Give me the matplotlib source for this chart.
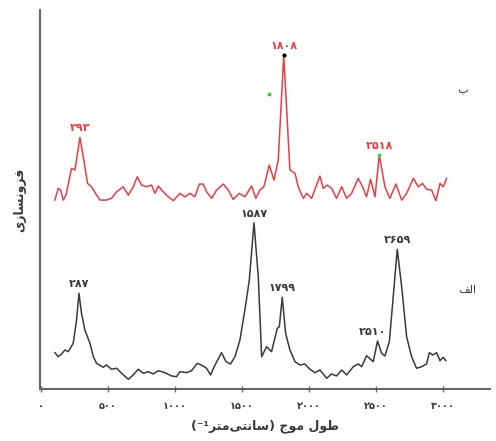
import matplotlib
matplotlib.use("Agg")
import matplotlib.pyplot as plt

# wavenumbers (cm-1) and relative intensities
wn_b = [104, 129, 147, 167, 187, 229, 254, 291, 316, 348, 378, 415, 440, 490, 527,
        565, 614, 652, 689, 719, 751, 789, 826, 851, 876, 913, 950, 988, 1037, 1075,
        1112, 1149, 1182, 1211, 1236, 1274, 1311, 1361, 1398, 1435, 1480, 1522, 1572,
        1604, 1634, 1664, 1704, 1739, 1771, 1812, 1858, 1896, 1920, 1958, 1983, 2020,
        2052, 2082, 2107, 2137, 2169, 2206, 2244, 2281, 2318, 2368, 2400, 2430, 2460,
        2493, 2525, 2567, 2604, 2649, 2692, 2729, 2779, 2816, 2848, 2878, 2915, 2948,
        2978, 3002, 3027]
int_b = [5, 16.7, 15, 5, 10, 36.7, 35, 67.7, 48.3, 21.7, 18.3, 10, 5, 5, 6.7,
         13.3, 18.3, 10, 18.3, 28.3, 20, 18.3, 20, 11.7, 19, 13.3, 8.3, 4.3, 11.7, 8.3,
         11.7, 8.3, 21, 21, 13.3, 6.7, 15, 21, 15, 5.7, 11.7, 8.3, 19,
         6.7, 15, 18.3, 40, 25, 45, 150, 35, 31.7, 18.3, 6.7, 11.7, 6.7,
         18.3, 29, 16.7, 20, 16.7, 6.7, 18.3, 6.7, 11.7, 26.7, 18.3, 8.3, 25.7,
         8.3, 50, 18.3, 6.7, 21, 5, 11.7, 26.7, 18.3, 21.7, 15.7, 15, 4.3,
         21.7, 18.3, 26.7]

wn_a = [104, 129, 154, 179, 204, 241, 266, 284, 303, 328, 366, 391, 415, 465, 490,
        527, 565, 602, 652, 689, 726, 764, 801, 838, 876, 925, 975, 1012, 1037, 1087,
        1124, 1167, 1211, 1236, 1266, 1299, 1348, 1381, 1415, 1448, 1485, 1522, 1555,
        1590, 1622, 1647, 1684, 1721, 1764, 1779, 1801, 1826, 1858, 1896, 1933, 1970,
        2007, 2045, 2082, 2132, 2169, 2206, 2244, 2281, 2331, 2368, 2393, 2430, 2480,
        2512, 2542, 2567, 2600, 2629, 2659, 2692, 2729, 2766, 2803, 2841, 2878, 2898,
        2923, 2953, 2978, 3002, 3022]
int_a = [32.3, 28.3, 31, 35, 33.3, 41.7, 65, 91.7, 71.7, 55, 41.7, 28.3, 21.7, 17.7, 20,
         15.7, 16.7, 11.7, 5.7, 10, 15.7, 11.7, 13.3, 11, 14.3, 12.3, 9, 8.3, 13.3, 12.3,
         14.3, 21.7, 19, 16.7, 10, 20, 32.3, 23.3, 21, 28.3, 45, 75, 105,
         162.3, 108.3, 28.3, 38.3, 33.3, 56.7, 58.3, 87.7, 51.7, 35, 23.3, 20, 21,
         15.7, 12.3, 15, 6.7, 11, 9, 15, 10, 18.3, 21, 18.3, 29.3, 23.3,
         44, 31.7, 29, 43.3, 88.3, 135.7, 98.3, 48.3, 28.3, 16.7, 18.3, 21, 32.3,
         30, 32.3, 24.3, 27.7, 24.3]

peaks_b = [293, 1808, 2518]
peaks_b_pos = [291, 1812, 2525]
peaks_a = [287, 1587, 1799, 2510, 2659]
peaks_a_pos = [284, 1590, 1801, 2512, 2659]

ticks = [0, 500, 1000, 1500, 2000, 2500, 3000]

off_b = 184
off_a = 4

FA = str.maketrans("0123456789", "۰۱۲۳۴۵۶۷۸۹")


def fa(n):
    return str(n).translate(FA)


# Persian text written in visual order with presentation forms
xlab = "(\u207b\u00b9" + "\uFEAE\uFE98\uFEE3" + "\uFEF0\uFE98\uFEE7\uFE8E\uFEB3" + ") " \
       + "\uFE9D\uFEEE\uFEE3" + " " + "\uFEDD\uFEEE\uFEC3"
ylab = "\uFEEF\uFEAF\uFE8E\uFEB4\uFEE7\uFEED\uFEB0\uFED3"
lab_b = "\uFE8F"
lab_a = "\uFED2\uFEDF\uFE8D"

red = "#ec3c42"
dark = "#3a3a3a"

fig = plt.figure(figsize=(4.96, 4.41), dpi=100)
ax = fig.add_axes([0.0806, 0.118, 0.907, 0.859])

ax.plot(wn_b, [v + off_b for v in int_b], color=red, lw=1.1)
ax.plot(wn_a, [v + off_a for v in int_a], color=dark, lw=1.1)

for lab, x in zip(peaks_b, peaks_b_pos):
    y = int_b[wn_b.index(x)] + off_b
    ax.annotate(fa(lab), (x, y), xytext=(0, 3), textcoords="offset points",
                ha="center", va="bottom", color=red, fontsize=8, fontweight="bold")
for lab, x in zip(peaks_a, peaks_a_pos):
    y = int_a[wn_a.index(x)] + off_a
    dx = -4 if lab == 2510 else 0
    ax.annotate(fa(lab), (x, y), xytext=(dx, 3), textcoords="offset points",
                ha="center", va="bottom", color=dark, fontsize=8, fontweight="bold")

# small marker dots on the top trace
ax.plot([1812], [150 + off_b], "o", color="black", ms=2)
ax.plot([2525, 1702], [50 + off_b, 110.7 + off_b], "o", color="#3ccf3c", ms=1.8)

ax.text(3150, 299, lab_b, fontsize=8, color=dark, ha="center", va="center")
ax.text(3185, 99, lab_a, fontsize=8, color=dark, ha="center", va="center")

ax.set_xlim(-7, 3350)
ax.set_ylim(0, 379)
ax.set_xticks(ticks)
ax.set_xticklabels([fa(t) for t in ticks], fontsize=7, color=dark, fontweight="bold")
ax.set_yticks([])
ax.tick_params(axis="x", direction="inout", length=5, width=1, color="#666666", pad=6)
for s in ["top", "right"]:
    ax.spines[s].set_visible(False)
for s in ["left", "bottom"]:
    ax.spines[s].set_color("#666666")
    ax.spines[s].set_linewidth(1.5)

ax.set_xlabel(xlab, fontsize=9, color=dark, labelpad=6, fontweight="bold")
ax.set_ylabel(ylab, fontsize=9, color=dark, labelpad=10, fontweight="bold")

fig.savefig("out.png", dpi=100)
